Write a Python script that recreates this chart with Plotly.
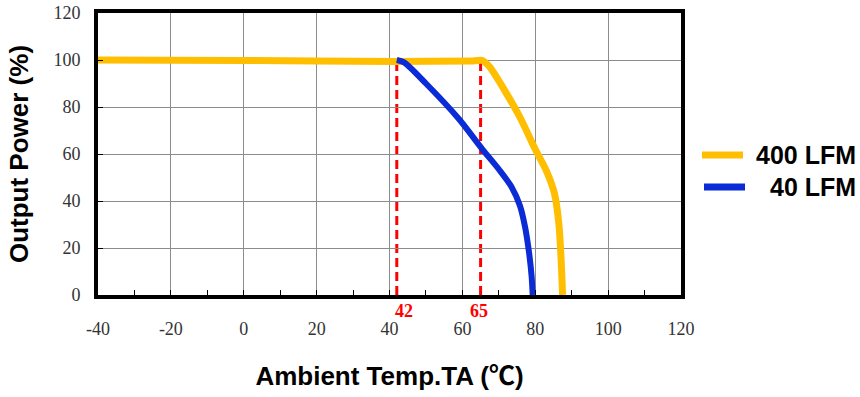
import plotly.graph_objects as go

# Data
temp_400 = [-40, 0, 42, 63, 65.5, 67.5, 72, 76, 80, 83, 85.3, 86.5, 87.1, 87.5]
power_400 = [100, 99.8, 99.4, 99.6, 99.8, 97, 86, 75, 62, 53, 43, 30, 15, 0]
temp_40 = [42, 44, 50, 59, 65.5, 70, 73.5, 75.8, 77.2, 78.3, 79, 79.3]
power_40 = [100, 99, 90, 75, 62, 53.5, 46, 38, 29, 18, 8, 0]
derate_points = [42, 65]
derate_shift = [7, -2]
x_ticks = [-40, -20, 0, 20, 40, 60, 80, 100, 120]
x_ticktext = ["-40", "-20", "0", "20", "40", "60", "80", "100", "120"]
y_ticks = [0, 20, 40, 60, 80, 100, 120]
series_names = ["400 LFM", "40 LFM"]
series_colors = ["#FFBF00", "#0A2BD6"]
series_widths = [7, 6]

W, H = 860, 397
L, R, T, B = 98, 179, 13, 102
pw, ph = W - L - R, H - T - B

fig = go.Figure()
fig.add_trace(go.Scatter(x=temp_400, y=power_400, mode="lines", name=series_names[0],
                         line=dict(color=series_colors[0], width=series_widths[0],
                                   shape="spline", smoothing=0.8)))
fig.add_trace(go.Scatter(x=temp_40, y=power_40, mode="lines", name=series_names[1],
                         line=dict(color=series_colors[1], width=series_widths[1],
                                   shape="spline", smoothing=0.8)))

for t, sh in zip(derate_points, derate_shift):
    fig.add_shape(type="line", x0=t, x1=t, y0=0, y1=100, xref="x", yref="y",
                  line=dict(color="#FF0000", width=3, dash="9px,5px"), layer="below")
    fig.add_annotation(x=t, y=0, xref="x", yref="y", text="<b>%d</b>" % t,
                       showarrow=False, yshift=-16, xshift=sh,
                       font=dict(family="Liberation Serif", size=18, color="#FF0000"))


def px_to_paper_x(px):
    return (px - L) / pw


def px_to_paper_y(py):
    return (H - B - py) / ph


# Manual legend (outside plot area)
legend_rows = [155, 187]
legend_line_x = [(702, 743), (704, 745)]
for name, col, ry, (lx0, lx1) in zip(series_names, series_colors, legend_rows, legend_line_x):
    fig.add_shape(type="line", xref="paper", yref="paper",
                  x0=px_to_paper_x(lx0), x1=px_to_paper_x(lx1),
                  y0=px_to_paper_y(ry), y1=px_to_paper_y(ry),
                  line=dict(color=col, width=7))
    fig.add_annotation(xref="paper", yref="paper", x=px_to_paper_x(858), y=px_to_paper_y(ry),
                       xanchor="right", yanchor="middle", showarrow=False,
                       text="<b>%s</b>" % name,
                       font=dict(family="Liberation Sans", size=25, color="black"))

fig.update_layout(
    width=W, height=H,
    margin=dict(l=L, r=R, t=T, b=B),
    paper_bgcolor="white", plot_bgcolor="white",
    showlegend=False,
    font=dict(family="Liberation Serif", size=18, color="#333333"),
)
fig.update_xaxes(range=[-40, 120], tickvals=x_ticks, ticktext=x_ticktext, automargin=False,
                 showgrid=True, gridcolor="#8c8c8c", gridwidth=1,
                 showline=True, linecolor="black", linewidth=4, mirror=True,
                 ticks="inside", ticklen=5, tickcolor="black", ticklabelstandoff=14,
                 minor=dict(dtick=10, ticks="inside", ticklen=5, tickcolor="black", showgrid=False),
                 tickfont=dict(family="Liberation Serif", size=18, color="#333333"),
                 title=dict(text="<b>Ambient Temp.TA (<span style='font-family:Noto Sans CJK SC'>℃</span>)</b>",
                            standoff=30,
                            font=dict(family="Liberation Sans", size=26, color="black")),
                 zeroline=False)
fig.update_yaxes(range=[0, 120], tickvals=y_ticks, automargin=False,
                 showgrid=True, gridcolor="#8c8c8c", gridwidth=1,
                 showline=True, linecolor="black", linewidth=4, mirror=True,
                 ticks="inside", ticklen=5, tickcolor="black", ticklabelstandoff=10,
                 tickfont=dict(family="Liberation Serif", size=18, color="#333333"),
                 title=dict(text="<b>Output Power (%)</b>", standoff=18,
                            font=dict(family="Liberation Sans", size=26, color="black")),
                 zeroline=False)

fig.write_html("out.html")
